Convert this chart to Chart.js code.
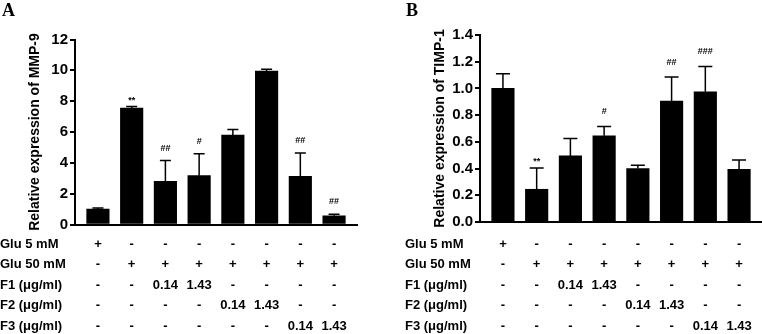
<!DOCTYPE html>
<html>
<head>
<meta charset="utf-8">
<script src="https://cdn.jsdelivr.net/npm/chart.js@4/dist/chart.umd.min.js"></script>
<style>
  body { margin: 0; background: #fff; width: 762px; height: 334px; overflow: hidden; position: relative; }
  #cajaA { position: absolute; left: 0; top: 0; width: 380px; height: 334px; }
  #cajaB { position: absolute; left: 380px; top: 0; width: 382px; height: 334px; }
</style>
</head>
<body>
<div id="cajaA"><canvas id="graficoA"></canvas></div>
<div id="cajaB"><canvas id="graficoB"></canvas></div>
<script>
  // grupos (8 columnas)
  const grupos = ['Glu 5', 'Glu 50', 'F1 0.14', 'F1 1.43', 'F2 0.14', 'F2 1.43', 'F3 0.14', 'F3 1.43'];

  // A: MMP-9
  const mmp9 = [1.0, 7.55, 2.8, 3.17, 5.8, 9.95, 3.12, 0.56];
  const mmp9Err = [0.07, 0.1, 1.35, 1.42, 0.37, 0.12, 1.52, 0.1];
  const mmp9Sig = ['', '**', '##', '#', '', '', '##', '##'];
  const ticksMmp9 = [0, 2, 4, 6, 8, 10, 12];

  // B: TIMP-1
  const timp1 = [1.0, 0.245, 0.495, 0.645, 0.40, 0.905, 0.975, 0.395];
  const timp1Err = [0.11, 0.16, 0.13, 0.07, 0.025, 0.18, 0.19, 0.07];
  const timp1Sig = ['', '**', '', '#', '', '##', '###', ''];
  const ticksTimp1 = [0, 0.2, 0.4, 0.6, 0.8, 1.0, 1.2, 1.4];

  // tabla de tratamientos
  const filas = ['Glu 5 mM', 'Glu 50 mM', 'F1 (μg/ml)', 'F2 (μg/ml)', 'F3 (μg/ml)'];
  const tabla = [
    ['+', '-', '-', '-', '-', '-', '-', '-'],
    ['-', '+', '+', '+', '+', '+', '+', '+'],
    ['-', '-', '0.14', '1.43', '-', '-', '-', '-'],
    ['-', '-', '-', '-', '0.14', '1.43', '-', '-'],
    ['-', '-', '-', '-', '-', '-', '0.14', '1.43']
  ];

  const fuente = '"Liberation Sans", Arial, sans-serif';

  // barras de error, asteriscos, tabla y letra del panel
  function crearExtras(valores, errores, signos, letra, cfg) {
    return {
      id: 'extras' + letra,
      afterDatasetsDraw(chart) {
        const { ctx, scales: { x, y } } = chart;
        ctx.save();
        ctx.strokeStyle = '#000';
        ctx.lineWidth = 1.5;
        valores.forEach((v, i) => {
          const px = x.getPixelForValue(i);
          const yBar = y.getPixelForValue(v);
          const yTop = y.getPixelForValue(v + errores[i]);
          ctx.beginPath();
          ctx.moveTo(px, yBar);
          ctx.lineTo(px, yTop);
          ctx.moveTo(px - cfg.cap / 2, yTop);
          ctx.lineTo(px + cfg.cap / 2, yTop);
          ctx.stroke();

          if (signos[i]) {
            ctx.fillStyle = '#000';
            ctx.font = 'bold 9px ' + fuente;
            ctx.textAlign = 'center';
            ctx.textBaseline = 'alphabetic';
            const sube = signos[i][0] === '*' ? 4 : cfg.gapSig;
            ctx.fillText(signos[i], px, yTop - sube);
          }
        });

        // tabla
        ctx.fillStyle = '#000';
        ctx.font = 'bold 13px ' + fuente;
        ctx.textBaseline = 'middle';
        filas.forEach((f, r) => {
          const fy = 244 + r * 20.5;
          ctx.textAlign = 'left';
          ctx.fillText(f, cfg.xFilas, fy);
          ctx.textAlign = 'center';
          tabla[r].forEach((t, c) => {
            ctx.fillText(t, x.getPixelForValue(c), fy);
          });
        });

        // letra
        ctx.font = 'bold 18px "Liberation Serif", "Times New Roman", serif';
        ctx.textAlign = 'left';
        ctx.textBaseline = 'alphabetic';
        ctx.fillText(letra, cfg.xLetra, 15.5);
        ctx.restore();
      }
    };
  }

  function crearGrafico(id, valores, errores, signos, marcas, titulo, letra, cfg) {
    const ctx = document.getElementById(id).getContext('2d');
    new Chart(ctx, {
      type: 'bar',
      data: {
        datasets: [{
          label: titulo,
          data: valores.map((v, i) => ({ x: i, y: v })),
          backgroundColor: '#000',
          borderWidth: 0,
          barThickness: 22.5
        }]
      },
      options: {
        responsive: true,
        maintainAspectRatio: false,
        animation: false,
        layout: {
          padding: { left: cfg.padIzq, right: cfg.padDer, top: cfg.arriba, bottom: 334 - cfg.abajo }
        },
        plugins: {
          legend: { display: false },
          tooltip: { enabled: false }
        },
        scales: {
          x: {
            type: 'linear',
            min: -0.68,
            max: 7.68,
            offset: false,
            ticks: { display: false },
            grid: { display: false, offset: false },
            border: { color: '#000', width: 2 },
            afterFit: s => { s.height = 0; }
          },
          y: {
            min: 0,
            max: marcas[marcas.length - 1],
            afterBuildTicks: s => { s.ticks = marcas.map(v => ({ value: v })); },
            ticks: {
              color: '#000',
              padding: 2,
              font: { family: fuente, size: 15, weight: 'bold' },
              callback: v => cfg.decimales ? v.toFixed(1) : String(v)
            },
            grid: { drawOnChartArea: false, drawTicks: true, tickLength: 5, color: '#000', lineWidth: 2 },
            border: { color: '#000', width: 2 },
            title: {
              display: true,
              text: titulo,
              color: '#000',
              padding: 0,
              font: { family: fuente, size: 14, weight: 'bold' }
            },
            afterFit: s => { s.width = 48.4; }
          }
        }
      },
      plugins: [crearExtras(valores, errores, signos, letra, cfg)]
    });
  }

  crearGrafico('graficoA', mmp9, mmp9Err, mmp9Sig, ticksMmp9, 'Relative expression of MMP-9', 'A',
    { padIzq: 26.6, padDer: 23, arriba: 39.5, abajo: 224.5, cap: 11, gapSig: 10, xFilas: 0, xLetra: 2, decimales: false });
  crearGrafico('graficoB', timp1, timp1Err, timp1Sig, ticksTimp1, 'Relative expression of TIMP-1', 'B',
    { padIzq: 51.6, padDer: 0, arriba: 35, abajo: 222, cap: 14, gapSig: 12.5, xFilas: 25, xLetra: 26, decimales: true });
</script>
</body>
</html>
